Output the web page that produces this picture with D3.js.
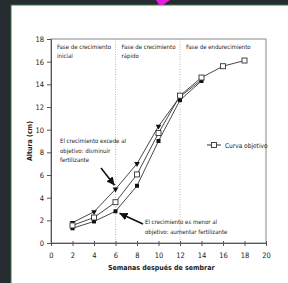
<!DOCTYPE html>
<html lang="es">
<head>
<meta charset="UTF-8">
<title>Altura vs semanas</title>
<script src="https://cdn.jsdelivr.net/npm/d3@7"></script>
<style>
  html, body { margin: 0; background: #fff; overflow: hidden; }
  svg { display: block; }
  text { font-family: "Liberation Sans Narrow", "DejaVu Sans Condensed", "Open Sans", sans-serif; fill: #1a1a1a; }
</style>
</head>
<body>
<svg id="chart" width="288" height="283"></svg>
<script>
// data
var semanas = [2, 4, 6, 8, 10, 12, 14, 16, 18];
var objetivo = [1.55, 2.25, 3.6, 6.05, 9.7, 13.0, 14.6, 15.6, 16.1];
var excede = [1.8, 2.75, 4.75, 7.0, 10.3, 12.9, 14.4];
var menor = [1.3, 1.9, 2.8, 5.05, 9.0, 12.6, 14.3];
var xTicks = [0, 2, 4, 6, 8, 10, 12, 14, 16, 18, 20];
var yTicks = [0, 2, 4, 6, 8, 10, 12, 14, 16, 18];
var fases = [
  { x: 0, lines: ["Fase de crecimiento", "inicial"] },
  { x: 6, lines: ["Fase de crecimiento", "rápido"] },
  { x: 12, lines: ["Fase de endurecimiento"] }
];
var cortes = [6, 12];

var svg = d3.select("#chart");

// dark frame round the white card
svg.append("rect").attr("width", 288).attr("height", 283).attr("fill", "#262a31");
svg.append("rect").attr("x", 11).attr("y", 5).attr("width", 280).attr("height", 282)
  .attr("fill", "#fff").attr("stroke", "#3d7a3d").attr("stroke-width", 1);
svg.append("polygon").attr("points", "156,0 170,0 163,5 159,5").attr("fill", "#e021d8");

var pL = 51, pR = 266, pT = 39, pB = 243;
var x = d3.scaleLinear().domain([0, 20]).range([pL, pR]);
var y = d3.scaleLinear().domain([0, 18]).range([pB, pT]);

// frame
svg.append("rect").attr("x", pL).attr("y", pT).attr("width", pR - pL).attr("height", pB - pT)
  .attr("fill", "none").attr("stroke", "#888").attr("stroke-width", 1);

// phase separators
svg.selectAll("line.corte").data(cortes).enter().append("line")
  .attr("x1", d => x(d)).attr("x2", d => x(d))
  .attr("y1", pT).attr("y2", pB)
  .attr("stroke", "#aaa").attr("stroke-width", 0.8).attr("stroke-dasharray", "1,1.5");

// axes
var xAxis = d3.axisBottom(x).tickValues(xTicks).tickSize(3).tickPadding(7);
var gx = svg.append("g").attr("transform", "translate(0," + pB + ")").call(xAxis);
var yAxis = d3.axisLeft(y).tickValues(yTicks).tickSize(4).tickPadding(3);
var gy = svg.append("g").attr("transform", "translate(" + pL + ",0)").call(yAxis);
[gx, gy].forEach(function (g) {
  g.select(".domain").attr("stroke", "#555");
  g.selectAll(".tick line").attr("stroke", "#555");
  g.selectAll(".tick text").attr("font-size", 7.5).attr("fill", "#1a1a1a")
    .attr("font-family", "'Liberation Sans Narrow', 'DejaVu Sans Condensed', sans-serif");
});
gx.selectAll(".tick line").attr("y1", -2);

// titles
svg.append("text").attr("x", 108).attr("y", 270).attr("font-size", 7).attr("font-weight", "bold")
  .text("Semanas después de sembrar");
svg.append("text").attr("transform", "translate(32,141) rotate(-90)").attr("text-anchor", "middle")
  .attr("font-size", 7).attr("font-weight", "bold").text("Altura (cm)");

// phase labels
fases.forEach(function (f) {
  var t = svg.append("text").attr("x", x(f.x) + 6).attr("y", 49).attr("font-size", 6);
  f.lines.forEach(function (l, i) {
    t.append("tspan").attr("x", x(f.x) + 6).attr("dy", i ? 8.5 : 0).text(l);
  });
});

// series
var line = d3.line().x((d, i) => x(semanas[i])).y(d => y(d));
[excede, objetivo, menor].forEach(function (s) {
  svg.append("path").datum(s).attr("d", line).attr("fill", "none").attr("stroke", "#333").attr("stroke-width", 0.9);
});

svg.selectAll("path.tri").data(excede).enter().append("path")
  .attr("d", d3.symbol().type(d3.symbolTriangle).size(14))
  .attr("transform", (d, i) => "translate(" + x(semanas[i]) + "," + y(d) + ") rotate(180)")
  .attr("fill", "#111");
svg.selectAll("rect.menor").data(menor).enter().append("rect")
  .attr("x", (d, i) => x(semanas[i]) - 2).attr("y", d => y(d) - 2)
  .attr("width", 4).attr("height", 4).attr("fill", "#111");
svg.selectAll("rect.obj").data(objetivo).enter().append("rect")
  .attr("x", (d, i) => x(semanas[i]) - 2.5).attr("y", d => y(d) - 2.5)
  .attr("width", 5).attr("height", 5).attr("fill", "#fff").attr("stroke", "#333").attr("stroke-width", 0.9);

// legend
svg.append("line").attr("x1", 207).attr("x2", 221).attr("y1", 145).attr("y2", 145).attr("stroke", "#333");
svg.append("rect").attr("x", 211.5).attr("y", 142.5).attr("width", 5).attr("height", 5)
  .attr("fill", "#fff").attr("stroke", "#333").attr("stroke-width", 0.9);
svg.append("text").attr("x", 225).attr("y", 147.5).attr("font-size", 6.5).text("Curva objetivo");

// annotations
function nota(x0, y0, lines) {
  var t = svg.append("text").attr("x", x0).attr("y", y0).attr("font-size", 6);
  lines.forEach(function (l, i) {
    t.append("tspan").attr("x", x0).attr("dy", i ? 9.5 : 0).text(l);
  });
}
nota(60, 143, ["El crecimiento excede al", "objetivo: disminuir", "fertilizante"]);
nota(145, 224, ["El crecimiento es menor al", "objetivo:  aumentar fertilizante"]);

svg.append("defs").append("marker").attr("id", "head").attr("viewBox", "0 0 10 10")
  .attr("refX", 10).attr("refY", 5).attr("markerWidth", 5).attr("markerHeight", 5).attr("orient", "auto")
  .append("path").attr("d", "M0,0 L10,5 L0,10 z").attr("fill", "#111");
function flecha(x1, y1, x2, y2) {
  svg.append("line").attr("x1", x1).attr("y1", y1).attr("x2", x2).attr("y2", y2)
    .attr("stroke", "#111").attr("stroke-width", 1.6).attr("marker-end", "url(#head)");
}
flecha(101, 168, x(6) - 1, y(excede[2]) - 4);
flecha(143, 224, x(6) + 4, y(menor[2]) + 2);
</script>
</body>
</html>
